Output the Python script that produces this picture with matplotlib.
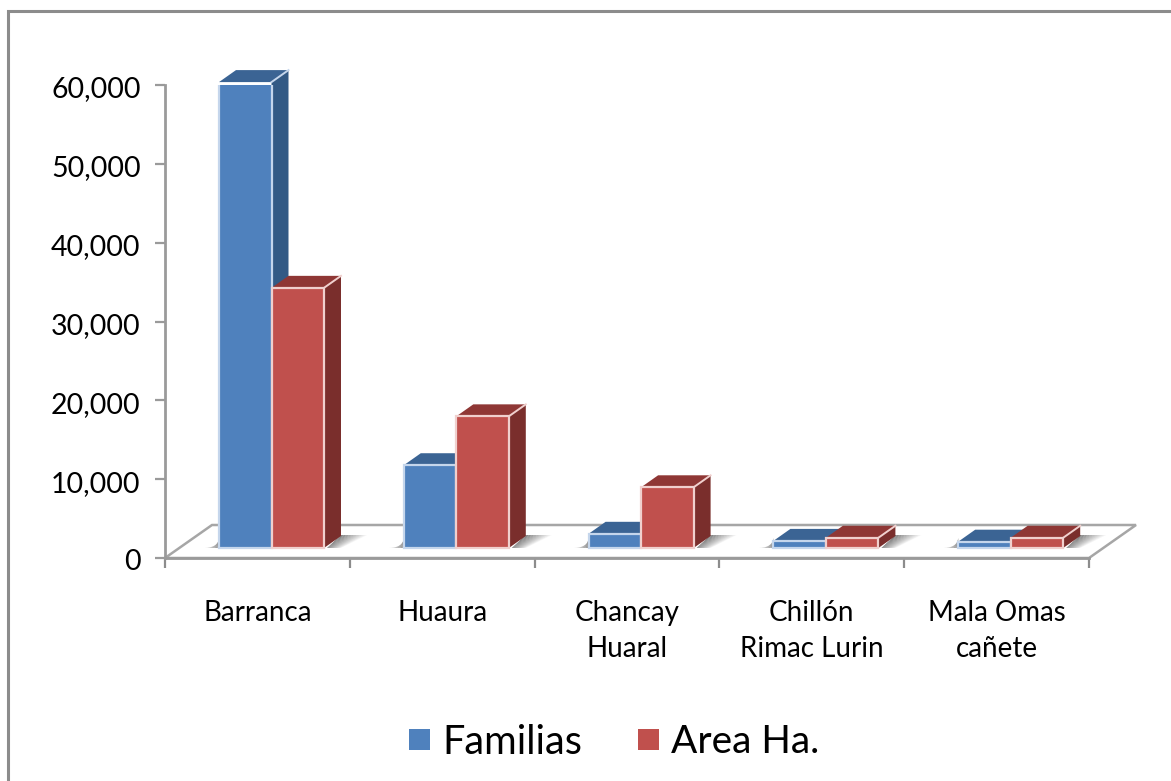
import matplotlib
matplotlib.use('Agg')
import matplotlib.pyplot as plt
from matplotlib.lines import Line2D
from matplotlib.patches import Polygon, Rectangle
from matplotlib.transforms import Affine2D

plt.rcParams['font.family'] = ['Lato', 'DejaVu Sans']

W, H = 1171, 781

categories = ['Barranca', 'Huaura', 'Chancay\nHuaral', 'Chillón\nRimac Lurin', 'Mala Omas\ncañete']
familias = [59100, 10500, 1800, 900, 800]
area_ha = [33000, 16700, 7700, 1300, 1300]
y_ticks = [0, 10000, 20000, 30000, 40000, 50000, 60000]

BLUE = ('#4f81bd', '#3b6494', '#335a85', '#c5d6ec')
RED = ('#c0504d', '#8f3735', '#7a2e2c', '#f0d0ce')

fig = plt.figure(figsize=(W / 100, H / 100), dpi=100, facecolor='white')

# marco del grafico: solo arriba y a la izquierda
fig.add_artist(Line2D([8 / W, 8 / W, 1], [0, 1 - 10.5 / H, 1 - 10.5 / H], transform=fig.transFigure,
                      color='#8c8c8c', linewidth=2.2, solid_joinstyle='miter'))

ax = fig.add_axes([165 / W, 1 - 558 / H, (1089 - 165) / W, (558 - 85) / H])
ax.set_xlim(0, 5)
ax.set_ylim(0, 60000)
ax.patch.set_alpha(0)
for s in ['top', 'right']:
    ax.spines[s].set_visible(False)
for s in ['left', 'bottom']:
    ax.spines[s].set_color('#9a9a9a')
    ax.spines[s].set_linewidth(2)

ax.set_yticks(y_ticks)
ax.set_yticklabels([f'{v:,}' for v in y_ticks], fontsize=20.5, color='black')
ax.set_xticks(range(6))
ax.set_xticklabels([])
ax.tick_params(axis='y', length=7.5, width=1.6, color='#9a9a9a', pad=10)
ax.tick_params(axis='x', length=7.5, width=1.6, color='#8c8c8c')
for lbl in ax.get_yticklabels():
    lbl.set_transform(lbl.get_transform() + Affine2D().translate(0, -2))


def px(x, y):
    return ax.transData.transform((x, y))


def poly(points, **kw):
    # puntos en pixeles de la figura
    p = Polygon(points, closed=True, transform=Affine2D(), clip_on=False, **kw)
    ax.add_patch(p)
    return p


# piso
FLOOR_DX, FLOOR_DY = 47, 33
x0, y0 = px(0, 0)
x1, y1 = px(5, 0)
poly([(x0, y0), (x0 + FLOOR_DX, y0 + FLOOR_DY), (x1 + FLOOR_DX, y1 + FLOOR_DY), (x1, y1)],
     facecolor='white', edgecolor='#a6a6a6', linewidth=1.8, zorder=1)

BAR_W = 52.5 / 184.8
LIFT = 10
DEPTH_X, DEPTH_Y = 17, 12
lift_tr = Affine2D().translate(0, LIFT)


def right_shadow(xb, base):
    # sombra difusa a la derecha de la barra
    steps = 16
    for i in range(steps):
        t0, t1 = i / steps, (i + 1) / steps
        poly([(xb + 3 + 14 * t0, base), (xb + 3 + 14 * t1, base),
              (xb + 17 + 26 * t1, base + 13), (xb + 17 + 26 * t0, base + 13)],
             facecolor='#606060', edgecolor='none', alpha=0.85 * (1 - t0), zorder=2)


def left_shadow(xl, base):
    steps = 10
    for i in range(steps):
        t0, t1 = i / steps, (i + 1) / steps
        poly([(xl - 16 * t0, base), (xl - 16 * t1, base),
              (xl, base + 11 * (1 - t1)), (xl, base + 11 * (1 - t0))],
             facecolor='#707070', edgecolor='none', alpha=0.7 * (1 - t0), zorder=2)


def draw_bar(left, value, colors):
    front, top, side, light = colors
    ax.bar(left, value, BAR_W, align='edge', color=front, edgecolor=light, linewidth=1.6,
           transform=ax.transData + lift_tr, zorder=4)
    xa, ya = px(left, value)
    xb, yb = px(left + BAR_W, 0)
    ya += LIFT
    yb += LIFT
    poly([(xa, ya), (xa + DEPTH_X, ya + DEPTH_Y), (xb + DEPTH_X, ya + DEPTH_Y), (xb, ya)],
         facecolor=top, edgecolor='none', zorder=3)
    poly([(xb, ya), (xb + DEPTH_X, ya + DEPTH_Y), (xb + DEPTH_X, yb + DEPTH_Y), (xb, yb)],
         facecolor=side, edgecolor='none', zorder=3)
    ax.plot([xb, xb + DEPTH_X], [ya, ya + DEPTH_Y], color=light, linewidth=1.4,
            transform=Affine2D(), clip_on=False, zorder=3)


for i, cat in enumerate(categories):
    left_blue = i + 54 / 184.8
    left_red = left_blue + BAR_W
    xs, ys = px(left_red + BAR_W, 0)
    right_shadow(xs, ys + LIFT)
    xs2, ys2 = px(left_blue, 0)
    left_shadow(xs2, ys2 + LIFT)
    draw_bar(left_blue, familias[i], BLUE)
    draw_bar(left_red, area_ha[i], RED)
    ax.text(i + 0.5, -5290, cat, ha='center', va='top', fontsize=20, linespacing=1.5,
            color='black')

# leyenda
fig.patches.append(Rectangle((409 / W, 1 - 750 / H), 21 / W, 21 / H, transform=fig.transFigure,
                             facecolor=BLUE[0], edgecolor='none'))
fig.patches.append(Rectangle((638 / W, 1 - 750 / H), 21 / W, 21 / H, transform=fig.transFigure,
                             facecolor=RED[0], edgecolor='none'))
fig.text(442 / W, 1 - 742 / H, 'Familias', fontsize=28.5, va='center', ha='left', color='black')
fig.text(671 / W, 1 - 742 / H, 'Area Ha.', fontsize=28, va='center', ha='left', color='black')

fig.savefig('out.png', dpi=100)
